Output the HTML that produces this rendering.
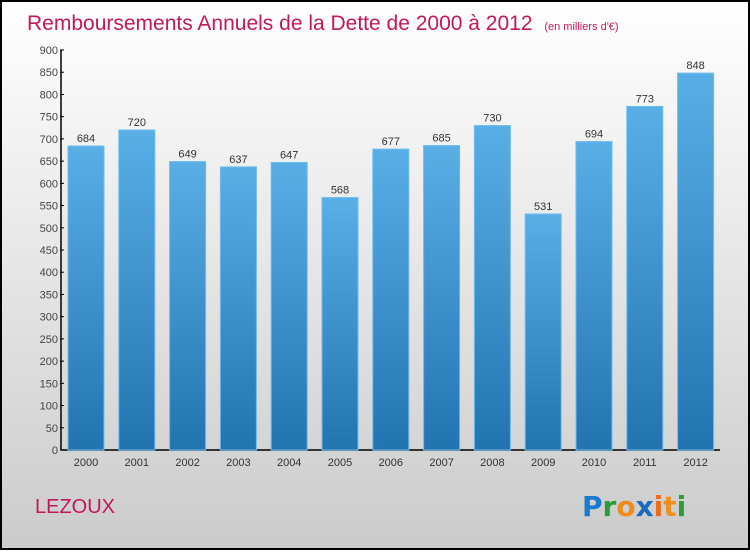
<!DOCTYPE html>
<html><head><meta charset="utf-8"><style>
body{margin:0;width:750px;height:550px;overflow:hidden;font-family:"Liberation Sans",sans-serif}
</style></head><body>
<svg width="750" height="550" xmlns="http://www.w3.org/2000/svg">
<defs>
<linearGradient id="bg" x1="0" y1="0" x2="0" y2="1"><stop offset="0" stop-color="#ffffff"/><stop offset="1" stop-color="#cbcbcb"/></linearGradient>
<linearGradient id="bar" x1="0" y1="0" x2="0" y2="1"><stop offset="0" stop-color="#5aaee6"/><stop offset="1" stop-color="#2274b0"/></linearGradient>
</defs>
<rect x="1" y="1" width="748" height="548" fill="url(#bg)" stroke="#000" stroke-width="2"/>
<text x="27" y="30" font-size="21" fill="#c2185b">Remboursements Annuels de la Dette de 2000 à 2012 <tspan font-size="11" dx="6">(en milliers d'€)</tspan></text>
<g id="yaxis"></g>
<g id="bars"></g>
<text x="35" y="513" font-size="20" fill="#c2185b">LEZOUX</text>
<text x="582" y="516" font-size="28" font-family="'DejaVu Sans',sans-serif" font-weight="bold"><tspan fill="#1a7ad0">P</tspan><tspan fill="#2e9b3a">r</tspan><tspan fill="#f08a1c">o</tspan><tspan fill="#1a6ac0">x</tspan><tspan fill="#f06a1c">i</tspan><tspan fill="#f0901c">t</tspan><tspan fill="#2e9b3a">i</tspan></text>
</svg>
<script>
const years=["2000","2001","2002","2003","2004","2005","2006","2007","2008","2009","2010","2011","2012"];
const values=[684,720,649,637,647,568,677,685,730,531,694,773,848];
const yTicks=[0,50,100,150,200,250,300,350,400,450,500,550,600,650,700,750,800,850,900];
const NS="http://www.w3.org/2000/svg";
const x0=61,x1=720,yb=450,yt=50,ymax=900;
const y=v=>yb-(v/ymax)*(yb-yt);
const step=50.8,bw=36,first=68;
const xb=i=>first+i*step;
function mk(t,a,p){const e=document.createElementNS(NS,t);for(const k in a)e.setAttribute(k,a[k]);p.appendChild(e);return e;}
const ya=document.getElementById('yaxis'),bg=document.getElementById('bars');
const ax=mk('line',{x1:x0,y1:yt,x2:x0,y2:yb,stroke:'#000','stroke-width':1.5},ya);


const xa=mk('line',{x1:x0,y1:yb,x2:x1,y2:yb,stroke:'#000','stroke-width':1.5},ya);


yTicks.forEach(v=>{
 const tk=mk('line',{x1:x0-1,y1:y(v),x2:x0+3,y2:y(v),stroke:'#000'},ya);
 
 
 const t=mk('text',{x:x0-3,y:y(v)+4,'font-size':11,'text-anchor':'end',fill:'#444'},ya);
 t.textContent=v;
 
 
});
years.forEach((yr,i)=>{
 const v=values[i];
 const r=mk('rect',{x:xb(i),y:y(v),width:bw,height:yb-y(v),fill:'url(#bar)',stroke:'#6cbcef','stroke-width':1},bg);
 
 
 const l=mk('text',{x:xb(i)+bw/2,y:y(v)-4,'font-size':11,'text-anchor':'middle',fill:'#333'},bg);
 l.textContent=v;
 
 
 const xl=mk('text',{x:xb(i)+bw/2,y:466,'font-size':11,'text-anchor':'middle',fill:'#333'},bg);
 xl.textContent=yr;
 
 
});
</script>
</body></html>
